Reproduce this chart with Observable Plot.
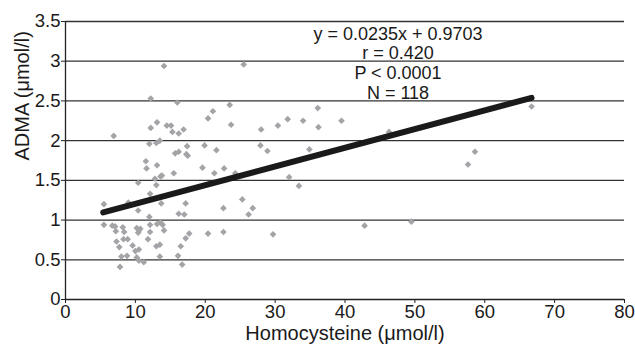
<!DOCTYPE html>
<html>
<head>
<meta charset="utf-8">
<script src="https://cdn.jsdelivr.net/npm/d3@7"></script>
<script src="https://cdn.jsdelivr.net/npm/@observablehq/plot@0.6"></script>
<style>
  html, body { margin: 0; padding: 0; background: #fff; }
  #chart svg { display: block; }
</style>
</head>
<body>
<div id="chart"></div>
<script>
// Homocysteine (µmol/l)
const hcy = [
  14.1, 12.2, 16.0, 20.4, 13.1, 12.2, 14.5, 15.1, 15.3, 16.2,
  16.9, 6.9, 12.0, 13.0, 13.5, 17.4, 19.9, 15.7, 16.2, 17.3,
  17.5, 11.5, 11.6, 13.1, 15.5, 19.6, 13.6, 13.8, 12.8, 10.4,
  13.0, 5.5, 12.1, 13.7, 17.2, 9.0, 10.4, 16.2, 17.0, 5.5,
  6.7, 7.1, 8.2, 7.2, 8.4, 10.2, 10.5, 10.7, 10.4, 12.1,
  13.1, 13.6, 13.9, 12.1, 14.1, 17.7, 17.2, 20.4, 8.3, 8.9,
  7.3, 11.8, 7.7, 9.6, 13.0, 13.5, 16.5, 10.0, 10.5, 8.8,
  8.0, 10.2, 10.5, 11.2, 13.5, 16.1, 16.7, 7.8, 25.5, 21.1,
  23.5, 23.7, 28.0, 30.4, 31.8, 34.0, 36.1, 36.2, 39.5, 21.6,
  27.9, 28.9, 34.9, 22.7, 21.3, 24.3, 32.0, 33.4, 25.3, 22.6,
  26.8, 26.2, 22.6, 29.7, 46.3, 58.6, 57.6, 42.8, 49.5, 66.7,
  12.0
];
// ADMA (µmol/l)
const adma = [
  2.94, 2.53, 2.48, 2.28, 2.23, 2.16, 2.19, 2.19, 2.11, 2.09,
  2.14, 2.06, 1.96, 1.97, 2.00, 1.93, 1.94, 1.84, 1.86, 1.83,
  1.81, 1.74, 1.65, 1.69, 1.59, 1.66, 1.55, 1.56, 1.52, 1.47,
  1.44, 1.20, 1.33, 1.21, 1.21, 1.22, 1.12, 1.08, 1.07, 0.94,
  0.93, 0.92, 0.91, 0.86, 0.85, 0.90, 0.87, 0.89, 0.84, 0.94,
  0.95, 0.97, 0.94, 0.85, 0.87, 0.83, 0.77, 0.83, 0.76, 0.76,
  0.73, 0.76, 0.66, 0.68, 0.67, 0.69, 0.67, 0.61, 0.63, 0.55,
  0.54, 0.53, 0.49, 0.47, 0.54, 0.55, 0.44, 0.41, 2.96, 2.37,
  2.45, 2.20, 2.14, 2.19, 2.27, 2.25, 2.41, 2.17, 2.25, 1.88,
  1.94, 1.87, 1.89, 1.65, 1.59, 1.59, 1.54, 1.43, 1.26, 1.15,
  1.15, 1.07, 0.85, 0.82, 2.11, 1.86, 1.70, 0.93, 0.98, 2.43,
  1.04
];
// regression line y = slope*x + intercept, drawn over the data range
const slope = 0.0235;
const intercept = 0.9703;
const fitX = [5.4, 66.7];
const xTicks = [0, 10, 20, 30, 40, 50, 60, 70, 80];
const yTicks = [0, 0.5, 1, 1.5, 2, 2.5, 3, 3.5];
const xTitle = "Homocysteine (\u03bcmol/l)";
const yTitle = "ADMA (\u03bcmol/l)";
const annotation = "y = 0.0235x + 0.9703\nr = 0.420\nP < 0.0001\nN = 118";

const points = hcy.map((x, i) => ({x, y: adma[i]}));
const fit = fitX.map(x => ({x, y: slope * x + intercept}));

const chart = Plot.plot({
  width: 635,
  height: 345,
  marginLeft: 65,
  marginRight: 11,
  marginTop: 21,
  marginBottom: 46,
  style: {fontFamily: "'Liberation Sans', Arial, Helvetica, sans-serif", fontSize: "18px", color: "#1a1a1a", background: "#fff"},
  x: {domain: [0, 80]},
  y: {domain: [0, 3.5]},
  marks: [
    Plot.ruleY(yTicks.filter(d => d > 0), {stroke: "#333", strokeWidth: 1.3}),
    Plot.axisX({ticks: xTicks, tickSize: 4, tickPadding: 1, tickFormat: d => String(d), label: null, fontSize: 18.5, stroke: "#222"}),
    Plot.axisY({ticks: yTicks, tickSize: 4, tickPadding: 1, tickFormat: d => String(d), label: null, fontSize: 18.5, stroke: "#222"}),
    Plot.ruleX([0], {stroke: "#222", strokeWidth: 1.3}),
    Plot.ruleY([0], {stroke: "#222", strokeWidth: 1.3}),
    Plot.dot(points, {x: "x", y: "y", symbol: "diamond2", r: 3, fill: "#a4a4a8", stroke: "none"}),
    Plot.line(fit, {x: "x", y: "y", stroke: "#1a1a1a", strokeWidth: 6}),
    Plot.text([annotation], {text: d => d, frameAnchor: "top", dx: 53, dy: 4, lineAnchor: "top", lineHeight: 1.1, fontSize: 18, fill: "#1a1a1a"}),
    Plot.text([xTitle], {text: d => d, frameAnchor: "bottom", dy: 34, lineAnchor: "middle", fontSize: 20, fill: "#1a1a1a"}),
    Plot.text([yTitle], {text: d => d, frameAnchor: "left", dx: -43, rotate: -90, lineAnchor: "middle", fontSize: 20, fill: "#1a1a1a"})
  ]
});
document.getElementById("chart").appendChild(chart);
</script>
</body>
</html>
